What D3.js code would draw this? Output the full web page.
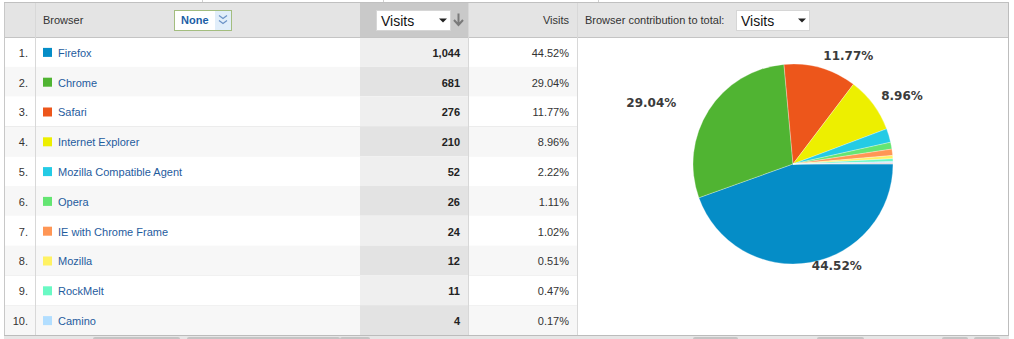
<!DOCTYPE html>
<html lang="en">
<head>
<meta charset="UTF-8">
<title>Browser contribution to total: Visits</title>
<script src="https://d3js.org/d3.v7.min.js"></script>
<style>
    body { margin: 0; background: #fff; }
    svg { display: block; }
    .cell text { font: 11px "Liberation Sans", Arial, sans-serif; fill: #333; }
    .cell text.link { fill: #1f5c9e; }
    .pie-label { font: bold 12px "DejaVu Sans", Verdana, sans-serif; fill: #3b3b3b; }
</style>
</head>
<body>
<div id="chart"></div>
<script>
    // data
    var browsers = ["Firefox", "Chrome", "Safari", "Internet Explorer", "Mozilla Compatible Agent",
                    "Opera", "IE with Chrome Frame", "Mozilla", "RockMelt", "Camino"];
    var visits = [1044, 681, 276, 210, 52, 26, 24, 12, 11, 4];
    var otherVisits = 5; // remaining browsers, not listed in the table
    var colors = ["#058dc7", "#50b432", "#ed561b", "#edef00", "#24cbe5",
                  "#64e572", "#ff9655", "#fff263", "#6af9c4", "#b2deff"];
    var otherColor = "#e8d8d8";

    var W = 1014, H = 339;
    var total = d3.sum(visits) + otherVisits;
    var pctFmt = d => (d / total * 100).toFixed(2) + "%";
    var numFmt = d3.format(",");

    var svg = d3.select("#chart").append("svg")
        .attr("width", W)
        .attr("height", H);

    // column edges
    var colNum = [5, 35], colBrowser = [35, 360], colVisits = [360, 468],
        colPct = [468, 577], colPie = [577, 1008];
    var headTop = 3, headBottom = 37, tableBottom = 335;

    var y = d3.scaleBand()
        .domain(d3.range(browsers.length))
        .range([headBottom, tableBottom]);

    // strip above the table
    svg.append("g").selectAll("line")
        .data([202, 383, 598])
        .enter().append("line")
            .attr("x1", d => d + 0.5).attr("x2", d => d + 0.5)
            .attr("y1", 0).attr("y2", headTop)
            .attr("stroke", "#d0d0d0");

    // header background
    svg.append("rect")
        .attr("x", 4).attr("y", headTop)
        .attr("width", colPie[1] - 4).attr("height", headBottom - headTop)
        .attr("fill", "#e4e4e4");
    svg.append("rect")
        .attr("x", colVisits[0]).attr("y", headTop)
        .attr("width", colVisits[1] - colVisits[0]).attr("height", headBottom - headTop)
        .attr("fill", "#c9c9c9");

    // rows
    var rows = svg.append("g").attr("class", "cell")
        .selectAll("g")
        .data(browsers)
        .enter().append("g");

    rows.append("rect")
        .attr("x", colNum[0]).attr("y", (d, i) => y(i))
        .attr("width", colPct[1] - colNum[0]).attr("height", y.bandwidth())
        .attr("fill", (d, i) => i % 2 ? "#f7f7f7" : "#fff");
    rows.append("rect")
        .attr("x", colVisits[0]).attr("y", (d, i) => y(i))
        .attr("width", colVisits[1] - colVisits[0]).attr("height", y.bandwidth())
        .attr("fill", (d, i) => i % 2 ? "#e3e3e3" : "#efefef");
    rows.append("line")
        .attr("x1", colNum[0]).attr("x2", colPct[1])
        .attr("y1", (d, i) => Math.round(y(i) + y.bandwidth()) + 0.5)
        .attr("y2", (d, i) => Math.round(y(i) + y.bandwidth()) + 0.5)
        .attr("stroke", "#dcdcdc");

    var mid = i => y(i) + y.bandwidth() / 2 + 1;

    rows.append("text")
        .attr("x", colNum[1] - 7).attr("y", (d, i) => mid(i))
        .attr("dy", "0.35em").attr("text-anchor", "end")
        .style("fill", "#333")
        .text((d, i) => (i + 1) + ".");
    rows.append("rect")
        .attr("x", 43).attr("y", (d, i) => mid(i) - 5)
        .attr("width", 9).attr("height", 9)
        .attr("fill", (d, i) => colors[i]);
    rows.append("text")
        .attr("class", "link")
        .attr("x", 58).attr("y", (d, i) => mid(i))
        .attr("dy", "0.35em")
        .text(d => d);
    rows.append("text")
        .attr("x", colVisits[1] - 8).attr("y", (d, i) => mid(i))
        .attr("dy", "0.35em").attr("text-anchor", "end")
        .style("font-weight", "bold").style("fill", "#222")
        .text((d, i) => numFmt(visits[i]));
    rows.append("text")
        .attr("x", colPct[1] - 8).attr("y", (d, i) => mid(i))
        .attr("dy", "0.35em").attr("text-anchor", "end")
        .style("fill", "#333")
        .text((d, i) => pctFmt(visits[i]));

    // grid lines
    var grid = svg.append("g").attr("fill", "none");
    grid.append("line").attr("x1", 4).attr("x2", colPie[1] + 1)
        .attr("y1", headTop - 0.5).attr("y2", headTop - 0.5).attr("stroke", "#c0c0c0");
    grid.append("line").attr("x1", 4).attr("x2", colPie[1] + 1)
        .attr("y1", headBottom + 0.5).attr("y2", headBottom + 0.5).attr("stroke", "#c4c4c4");
    grid.append("line").attr("x1", 4.5).attr("x2", 4.5)
        .attr("y1", headTop).attr("y2", tableBottom).attr("stroke", "#c8c8c8");
    grid.append("line").attr("x1", colPie[1] + 0.5).attr("x2", colPie[1] + 0.5)
        .attr("y1", headTop).attr("y2", tableBottom).attr("stroke", "#bdbdbd");
    grid.selectAll(".vline")
        .data([colNum[1], colPct[0], colPct[1]])
        .enter().append("line")
            .attr("x1", d => d + 0.5).attr("x2", d => d + 0.5)
            .attr("y1", headTop).attr("y2", tableBottom)
            .attr("stroke", "#d8d8d8");

    // bottom strip
    svg.append("rect")
        .attr("x", 4).attr("y", tableBottom)
        .attr("width", colPie[1] - 3).attr("height", H - tableBottom)
        .attr("fill", "#e6e6e6");
    svg.append("line").attr("x1", 4).attr("x2", colPie[1] + 1)
        .attr("y1", tableBottom + 0.5).attr("y2", tableBottom + 0.5).attr("stroke", "#bcbcbc");
    svg.append("g").selectAll("rect")
        .data([[93, 180], [187, 340], [340, 370], [693, 738], [817, 864], [942, 968], [974, 1000]])
        .enter().append("rect")
            .attr("x", d => d[0]).attr("y", 337)
            .attr("width", d => d[1] - d[0]).attr("height", 4)
            .attr("rx", 2)
            .attr("fill", "#c4c4c4");

    // header contents
    var head = svg.append("g").attr("class", "cell");
    head.append("text").attr("x", 43).attr("y", 20).attr("dy", "0.35em").text("Browser");

    // "None" secondary dimension box
    head.append("rect").attr("x", 174.5).attr("y", 10.5).attr("width", 57).attr("height", 20)
        .attr("fill", "#fff").attr("stroke", "#a3bd7f");
    head.append("rect").attr("x", 215).attr("y", 11).attr("width", 16).attr("height", 19)
        .attr("fill", "#e1eefa");
    head.append("text").attr("x", 181).attr("y", 20).attr("dy", "0.35em")
        .style("font-weight", "bold").style("fill", "#1b5ea6").text("None");
    head.append("path")
        .attr("d", "M219,15.5l4,3l4,-3M219,20.5l4,3l4,-3")
        .attr("fill", "none").attr("stroke", "#6b93c7").attr("stroke-width", 1.2);

    // sort metric select
    function selectBox(g, x, w, label) {
        g.append("rect").attr("x", x + 0.5).attr("y", 10.5).attr("width", w).attr("height", 20)
            .attr("fill", "#fff").attr("stroke", "#d6d6d6");
        g.append("text").attr("x", x + 5).attr("y", 21).attr("dy", "0.35em")
            .style("font-size", "14px").style("fill", "#111").text(label);
        g.append("path")
            .attr("d", `M${x + w - 11},18.5h8l-4,4z`)
            .attr("fill", "#222");
    }
    selectBox(head, 376, 74, "Visits");
    head.append("path")
        .attr("d", "M458.5,13.5v11M454,20l4.5,5l4.5,-5")
        .attr("fill", "none").attr("stroke", "#7a7a7a").attr("stroke-width", 2);

    head.append("text").attr("x", colPct[1] - 8).attr("y", 20).attr("dy", "0.35em")
        .attr("text-anchor", "end").text("Visits");
    head.append("text").attr("x", 585).attr("y", 20).attr("dy", "0.35em")
        .text("Browser contribution to total:");
    selectBox(head, 736, 73, "Visits");

    // pie
    var cx = 793, cy = 164, r = 100;
    var pieData = visits.map((v, i) => ({name: browsers[i], value: v, color: colors[i]}))
        .concat([{name: "Other", value: otherVisits, color: otherColor}]);

    var pie = d3.pie()
        .sort(null)
        .value(d => d.value)
        .startAngle(Math.PI / 2)
        .endAngle(Math.PI / 2 + 2 * Math.PI);
    var arc = d3.arc().innerRadius(0).outerRadius(r);
    var labelArc = d3.arc().innerRadius(r + 10).outerRadius(r + 10);

    var arcs = pie(pieData);
    var pg = svg.append("g").attr("transform", `translate(${cx},${cy})`);
    pg.selectAll("path")
        .data(arcs)
        .enter().append("path")
            .attr("d", arc)
            .attr("fill", d => d.data.color)
            .attr("stroke", "#fff")
            .attr("stroke-width", 0.3);

    pg.selectAll("text")
        .data(arcs.filter(d => d.data.value / total > 0.05))
        .enter().append("text")
            .attr("class", "pie-label")
            .attr("transform", d => {
                var [lx, ly] = labelArc.centroid(d);
                var right = lx > 0;
                return `translate(${right ? lx : lx - 24},${ly - (ly > 0 ? 7 : 2)})`;
            })
            .attr("dy", "0.35em")
            .attr("text-anchor", d => labelArc.centroid(d)[0] > 0 ? "start" : "end")
            .text(d => pctFmt(d.data.value));
</script>
</body>
</html>
